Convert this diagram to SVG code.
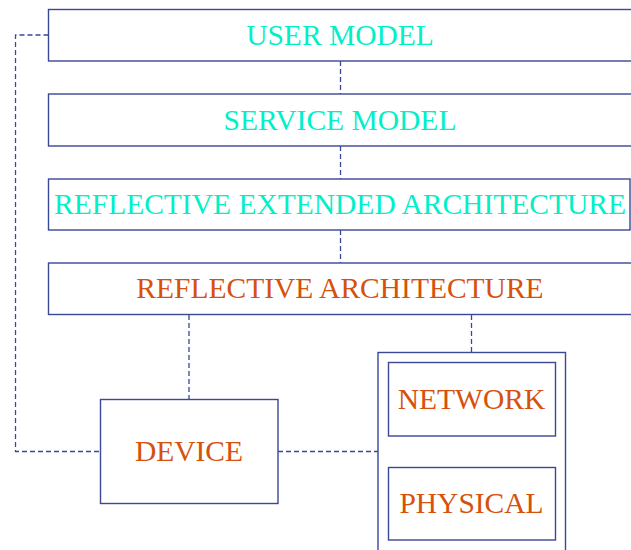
<svg xmlns="http://www.w3.org/2000/svg" width="631" height="550" viewBox="0 0 631 550">
  <style>
    .box { fill: #ffffff; stroke: #3a4896; stroke-width: 1.4; }
    .link { fill: none; stroke: #3a4896; stroke-width: 1.3; stroke-dasharray: 5 3; }
    .lbl { font-family: "Liberation Serif", "Times New Roman", serif; font-size: 29.5px; text-anchor: middle; }
    .cyan { fill: #00f0c8; }
    .orange { fill: #d6510c; }
  </style>
  <rect width="631" height="550" fill="#ffffff"/>

  <!-- dashed connectors -->
  <g id="connectors">
    <line class="link" x1="340.5" y1="61" x2="340.5" y2="94"/>
    <line class="link" x1="340.5" y1="146" x2="340.5" y2="179"/>
    <line class="link" x1="340.5" y1="230" x2="340.5" y2="263"/>
    <line class="link" x1="189" y1="315" x2="189" y2="399.5"/>
    <line class="link" x1="471.5" y1="315" x2="471.5" y2="352.5"/>
    <polyline class="link" points="48.5,35 15.5,35 15.5,451.5 100.5,451.5"/>
    <line class="link" x1="278" y1="451.5" x2="378" y2="451.5"/>
    <line class="link" x1="471.5" y1="436" x2="471.5" y2="467.5"/>
  </g>

  <g id="user-model">
    <rect class="box" x="48.5" y="9.5" width="600" height="51.5"/>
    <text class="lbl cyan" x="340" y="45">USER MODEL</text>
  </g>
  <g id="service-model">
    <rect class="box" x="48.5" y="94" width="600" height="52"/>
    <text class="lbl cyan" x="340" y="130">SERVICE MODEL</text>
  </g>
  <g id="reflective-extended-architecture">
    <rect class="box" x="48.5" y="179" width="581.5" height="51"/>
    <text class="lbl cyan" x="340" y="213.5">REFLECTIVE EXTENDED ARCHITECTURE</text>
  </g>
  <g id="reflective-architecture">
    <rect class="box" x="48.5" y="263" width="600" height="51.5"/>
    <text class="lbl orange" x="340" y="297.5">REFLECTIVE ARCHITECTURE</text>
  </g>
  <g id="device">
    <rect class="box" x="100.5" y="399.5" width="177.5" height="104"/>
    <text class="lbl orange" x="189" y="461">DEVICE</text>
  </g>
  <g id="stack">
    <rect class="box" x="378" y="352.5" width="187.5" height="210"/>
  </g>
  <g id="network">
    <rect class="box" x="388.5" y="362.5" width="167" height="73.5"/>
    <text class="lbl orange" x="471.5" y="409">NETWORK</text>
  </g>
  <g id="physical">
    <rect class="box" x="388.5" y="467.5" width="167" height="72.5"/>
    <text class="lbl orange" x="471.5" y="513">PHYSICAL</text>
  </g>
</svg>
